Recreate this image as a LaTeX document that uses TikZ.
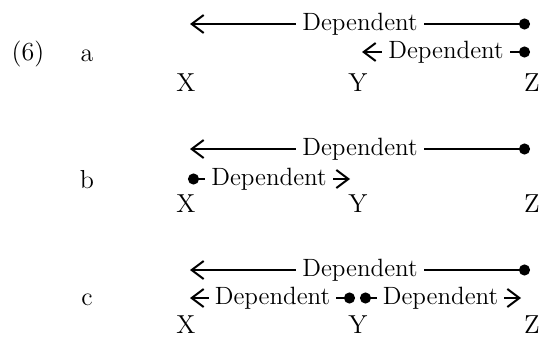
\documentclass[tikz,border=0pt]{standalone}
\usetikzlibrary{arrows.meta}
\tikzset{
    dep/.style={line width=1pt, arrows={Circle[length=5.5pt,width=5.5pt]-Straight Barb[length=6pt,width=9pt,line width=1pt]}},
    word/.style={fill=white, inner sep=3pt, font=\fontsize{12.5}{14}\selectfont},
    letter/.style={inner sep=0pt, font=\fontsize{13}{15}\selectfont}
}
\begin{document}
\begin{tikzpicture}[x=0.5pt, y=-0.5pt]
    \useasboundingbox (0,0) rectangle (542,337);
    % Number and row labels
    \node[letter] (num) at (28,54) {(6)};
    \node[letter] (la) at (87,56) {a};
    \node[letter] (lb) at (87,180) {b};
    \node[letter] (lc) at (87,300) {c};
    % Draw the letters X, Y, Z in each row
    \foreach \r/\y in {a/83,b/204,c/325} {
            \node[letter] (X\r) at (186,\y) {X};
            \node[letter] (Y\r) at (358,\y) {Y};
            \node[letter] (Z\r) at (532,\y) {Z};
        }
    % Ends of the long arrows
    \foreach \r/\y in {a/24,b/149,c/270} {
            \coordinate (dZ\r) at (530,\y);
            \coordinate (tX\r) at (190,\y);
            \draw[dep] (dZ\r) -- node[word] (long\r) {Dependent} (tX\r);
        }
    % Short arrows
    \coordinate (dZs) at (530,52);
    \coordinate (tYs) at (362,52);
    \draw[dep] (dZs) -- node[word] (shorta) {Dependent} (tYs);
    \coordinate (dXs) at (188,179);
    \coordinate (tYb) at (350,179);
    \draw[dep] (dXs) -- node[word] (shortb) {Dependent} (tYb);
    \coordinate (dYl) at (355,298);
    \coordinate (tXc) at (190,298);
    \draw[dep] (dYl) -- node[word] (shortc1) {Dependent} (tXc);
    \coordinate (dYr) at (360,298);
    \coordinate (tZc) at (521,298);
    \draw[dep] (dYr) -- node[word] (shortc2) {Dependent} (tZc);
\end{tikzpicture}
\end{document}
